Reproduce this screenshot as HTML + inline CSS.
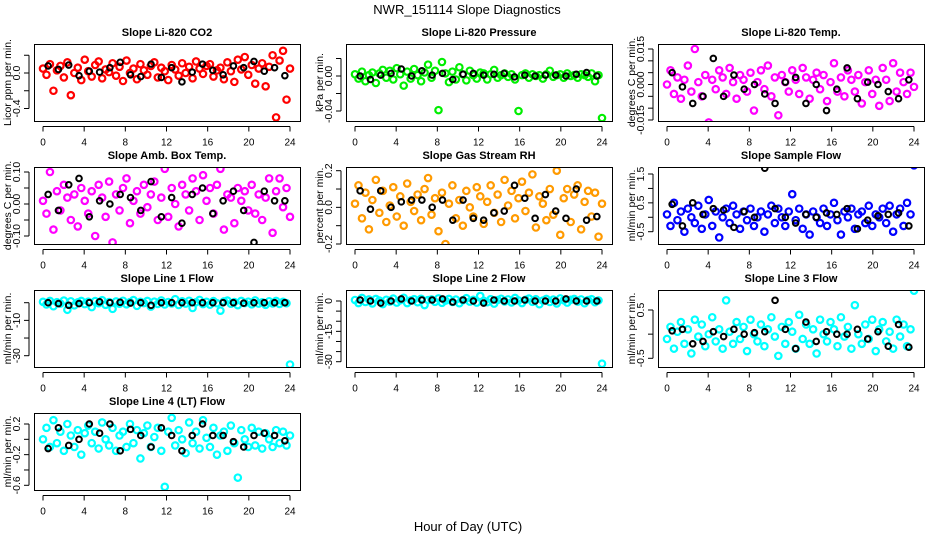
<!DOCTYPE html>
<html><head><meta charset="utf-8">
<style>
html,body{margin:0;padding:0;background:#fff;}
svg{display:block;font-family:"Liberation Sans",Arial,sans-serif;}
</style></head>
<body>
<svg id="chart" width="936" height="540" viewBox="0 0 936 540" xmlns="http://www.w3.org/2000/svg">
<text x="467" y="14" text-anchor="middle" font-size="13">NWR_151114  Slope Diagnostics</text>
<text x="468" y="531" text-anchor="middle" font-size="13">Hour of Day (UTC)</text>
</svg>
<script>
// ---- data ----
const xTicks = [0,4,8,12,16,20,24];
const co2 = [0.05,-0.02,0.1,-0.2,0.03,0.08,-0.05,0.12,-0.25,0.0,0.06,-0.08,0.15,0.02,-0.04,0.09,0.13,-0.06,0.04,0.01,0.11,-0.03,0.07,-0.09,0.14,0.0,0.05,-0.07,0.1,0.03,-0.02,0.08,0.12,-0.05,0.06,0.02,-0.08,0.09,0.04,-0.03,0.11,0.0,0.07,-0.06,0.13,0.05,-0.01,0.08,0.1,-0.04,0.03,0.06,-0.07,0.12,0.02,-0.1,0.15,0.04,0.18,-0.02,0.09,-0.12,0.05,0.11,-0.15,0.07,0.2,-0.5,0.14,0.25,-0.3,0.05];
const co2Ref = [0.08,0.04,0.09,-0.03,0.02,0.01,0.06,0.12,-0.02,-0.04,0.1,-0.05,0.06,-0.1,0.01,0.1,0.03,-0.02,0.08,0.06,0.13,0.02,0.06,-0.03];
const pres = [0.002,-0.003,0.005,-0.006,0.001,0.004,-0.008,0.003,0.007,-0.002,0.006,-0.004,0.009,0.002,-0.011,0.005,-0.003,0.008,0.001,-0.006,0.004,0.013,-0.002,0.006,-0.039,0.016,0.003,-0.007,0.005,-0.004,0.01,0.002,-0.005,0.006,0.001,-0.003,0.004,0.003,-0.004,0.002,0.007,-0.002,0.001,0.003,-0.001,0.002,-0.004,-0.04,0.001,0.003,-0.002,0.002,0.0,0.001,-0.003,0.002,0.006,-0.001,0.001,0.002,-0.002,0.003,0.0,0.001,-0.002,0.002,0.001,-0.001,0.003,-0.006,0.001,-0.048];
const presRef = [0.0,-0.004,0.001,0.003,0.008,0.0,0.006,0.001,0.003,-0.004,0.002,0.003,0.001,0.002,0.003,-0.001,0.001,0.0,0.001,0.001,0.0,0.002,0.004,0.0];
const temp = [0.0,0.006,-0.004,0.003,-0.006,0.002,0.008,-0.003,0.015,0.001,-0.005,0.004,-0.016,0.002,-0.002,0.006,0.003,-0.004,0.007,0.001,-0.006,0.004,0.002,-0.003,0.005,-0.011,0.001,0.006,-0.002,0.008,-0.005,0.003,-0.013,0.004,0.001,-0.003,0.006,0.002,-0.004,0.007,0.003,-0.006,0.002,0.005,-0.002,0.004,-0.007,0.001,0.009,-0.003,0.003,-0.005,0.006,0.002,-0.003,0.004,-0.008,0.001,0.006,-0.004,0.002,-0.009,0.007,0.002,-0.007,0.009,-0.003,0.005,0.001,-0.004,0.005,-0.001];
const tempRef = [0.005,-0.001,-0.008,-0.005,0.011,-0.005,0.004,-0.002,0.0,-0.004,-0.008,0.001,0.003,-0.008,0.0,-0.011,-0.002,0.007,-0.006,0.001,0.0,-0.003,-0.006,0.002];
const amb = [0.01,-0.03,0.1,-0.08,0.04,-0.02,0.06,0.02,-0.05,0.03,-0.07,0.05,0.01,-0.03,0.04,-0.1,0.06,0.02,-0.04,0.07,-0.12,0.03,-0.02,0.05,0.08,-0.06,0.01,0.04,-0.03,0.06,-0.01,0.03,0.07,-0.05,0.02,0.11,-0.04,0.05,0.0,-0.07,0.06,0.03,-0.02,0.08,0.04,-0.05,0.09,0.01,0.05,-0.03,0.06,0.11,-0.08,0.03,0.02,-0.06,0.05,0.01,0.04,-0.02,0.06,-0.03,0.03,-0.05,0.02,0.08,-0.09,0.04,0.08,-0.01,0.05,-0.04];
const ambRef = [0.03,-0.02,0.06,0.08,-0.04,0.01,0.0,0.03,0.02,-0.02,0.07,-0.04,0.02,-0.06,0.03,0.05,-0.03,0.01,0.04,-0.02,-0.12,0.04,0.01,0.01];
const rh = [0.02,0.12,-0.06,0.08,-0.12,0.04,0.15,-0.03,0.09,-0.08,0.01,0.11,-0.05,0.06,-0.1,0.13,0.03,-0.02,0.07,-0.07,0.1,0.16,-0.04,0.05,-0.13,0.08,-0.2,0.02,0.12,-0.06,0.04,-0.1,0.09,0.0,-0.05,0.11,0.06,-0.09,0.03,0.12,-0.03,0.07,-0.08,0.15,0.01,0.09,-0.06,0.05,0.14,-0.02,0.08,0.18,-0.11,0.06,0.02,-0.07,0.1,-0.04,0.2,-0.15,0.05,0.1,-0.08,0.07,0.12,-0.12,0.03,0.09,-0.05,0.08,-0.16,0.02];
const rhRef = [0.09,-0.01,0.09,0.0,0.03,0.04,0.04,0.0,0.04,-0.07,0.04,-0.06,-0.07,-0.03,-0.02,0.12,0.05,-0.06,0.07,-0.02,-0.06,0.1,-0.07,-0.05];
const samp = [0.1,-0.3,0.5,-0.1,0.2,-0.5,0.3,0.0,-0.2,0.4,-0.4,0.1,0.6,-0.3,0.2,-0.7,0.0,0.3,-0.2,0.4,0.1,-0.4,0.2,-0.1,0.3,-0.3,0.0,0.2,-0.5,0.1,0.4,-0.2,0.3,0.0,-0.3,0.2,0.8,-0.1,0.3,-0.4,0.1,-0.6,0.2,0.0,-0.2,0.3,-0.3,0.1,0.5,-0.1,-0.6,0.2,0.0,0.3,-0.4,0.1,0.2,-0.2,0.4,-0.3,0.1,0.0,0.3,-0.2,0.4,-0.5,0.1,0.3,-0.3,0.5,0.1,1.8];
const sampRef = [0.45,-0.3,0.5,0.1,0.3,0.25,-0.35,0.2,0.0,1.7,0.3,0.0,-0.2,0.1,0.0,0.15,0.1,0.3,-0.4,-0.1,0.05,0.1,0.15,-0.3];
const line1 = [0.5,-1,1,-2,0.3,-0.5,1.2,-4,0.8,-1.5,0.2,1,-0.8,0.6,-2.5,0.9,-0.3,1.4,-1.2,0.4,-3.5,0.7,-0.6,1.1,-0.9,0.3,1.5,-1.8,0.5,-0.2,1,-2.2,0.6,-0.7,1.3,-1,0.4,-0.4,2,-1.3,0.8,-0.5,1.1,-3,0.3,1.6,-0.8,0.5,-1.1,0.9,-0.3,-4.5,0.7,1.2,-0.6,0.4,-1.4,1,-0.2,0.6,-0.9,1.3,-0.5,0.2,-1.2,0.8,-0.4,1,-0.7,0.5,-0.3,-35];
const line1Ref = [0,-0.5,-1.5,-0.5,0,0.5,0,0.2,-0.2,0,-1.5,0,0,0,0,0,0,0,0,-0.3,0,0,0,0];
const line2 = [0.5,-1,1.5,-0.5,0.8,-1.2,1,0.2,-1.5,0.6,-0.3,1.2,-0.8,0.4,1.6,-1,0.3,0.9,-0.6,1.1,-2,0.5,0.8,-0.4,1.3,-0.9,0.2,1,-0.5,0.7,-1.1,0.4,1.4,-0.3,0.6,-0.8,2.5,0.1,-0.6,0.9,-1.3,0.5,1.1,-0.2,0.8,-0.7,1.5,0.3,-1,0.6,1.2,-0.4,0.9,-1.6,0.2,1,-0.5,0.7,-1.2,1.3,0.4,-0.8,0.6,1,-0.3,0.8,-1.1,0.5,0.9,-0.6,0.3,-31];
const line2Ref = [0.5,0,-1,0,1,0,0.5,0.5,1,-0.5,0.5,0,-1,0.5,0,0,0.5,0,0,0,1,0,0,0];
const line3 = [-0.1,0.15,-0.3,0.05,0.25,-0.2,0.1,-0.4,0.3,-0.05,0.2,-0.25,0.0,0.35,-0.15,0.1,-0.3,0.7,0.05,-0.2,0.25,-0.1,0.15,-0.35,0.3,0.0,-0.15,0.2,-0.25,0.1,0.35,-0.05,-0.45,0.15,-0.2,0.25,0.05,-0.3,0.4,-0.1,0.2,-0.2,0.1,-0.4,0.3,0.0,-0.15,0.25,0.1,-0.25,0.35,-0.05,0.15,-0.3,0.6,0.0,-0.2,0.2,-0.1,0.3,-0.35,0.1,0.25,-0.15,0.05,-0.3,0.3,-0.05,0.2,-0.25,0.1,0.9];
const line3Ref = [0.07,0.1,-0.2,-0.15,0.05,-0.05,0.1,0.0,0.03,0.05,0.7,0.1,-0.3,0.25,-0.15,0.05,0.0,0.0,0.1,-0.1,0.05,-0.25,0.2,-0.27];
const line4 = [0.0,0.15,-0.1,0.25,-0.05,0.1,-0.15,0.2,0.05,-0.1,0.12,-0.2,0.08,0.18,-0.05,0.1,-0.12,0.22,0.0,-0.08,0.15,-0.15,0.05,0.1,-0.1,0.2,-0.05,0.12,-0.25,0.08,0.18,-0.1,0.03,0.15,-0.15,-0.62,0.1,0.28,-0.08,0.12,0.0,-0.18,0.22,-0.05,0.1,-0.12,0.25,0.02,-0.1,0.15,-0.2,0.05,0.1,-0.15,0.18,-0.05,-0.5,0.12,0.0,-0.1,0.15,-0.08,0.1,-0.12,0.08,0.0,-0.1,0.12,-0.05,0.1,-0.08,0.05];
const line4Ref = [-0.12,0.15,-0.08,0.0,0.2,0.08,0.2,-0.15,0.13,0.05,-0.1,0.15,0.05,-0.15,0.05,0.2,0.05,0.05,-0.03,-0.1,0.05,0.08,0.05,-0.02];

// ---- panel configuration (layout) ----
const panels = [
 {id:'co2',title:'Slope Li-820 CO2',ylab:'Licor ppm per min.',col:0,row:0,color:'#ff0000',vals:co2,ref:co2Ref,cal:[0,73,-0.4,108.5],ticks:[-0.4,-0.2,0,0.2],labels:['-0.4','0.0'],labelVals:[-0.4,0]},
 {id:'pressure',title:'Slope Li-820 Pressure',ylab:'kPa per min.',col:1,row:0,color:'#00ee00',vals:pres,ref:presRef,cal:[0,76,-0.04,111],ticks:[-0.04,-0.02,0,0.02],labels:['-0.04','0.00'],labelVals:[-0.04,0]},
 {id:'temp',title:'Slope Li-820 Temp.',ylab:'degrees C per min.',col:2,row:0,color:'#ff00ff',vals:temp,ref:tempRef,cal:[0.015,49,-0.015,120],ticks:[-0.015,-0.01,-0.005,0,0.005,0.01,0.015],labels:['-0.015','0.000','0.015'],labelVals:[-0.015,0,0.015]},
 {id:'amb-box-temp',title:'Slope Amb. Box Temp.',ylab:'degrees C per min.',col:0,row:1,color:'#ff00ff',vals:amb,ref:ambRef,cal:[0.1,172,-0.1,236],ticks:[-0.1,-0.05,0,0.05,0.1],labels:['-0.10','0.00','0.10'],labelVals:[-0.1,0,0.1]},
 {id:'gas-rh',title:'Slope Gas Stream RH',ylab:'percent per min.',col:1,row:1,color:'#ff9a00',vals:rh,ref:rhRef,cal:[0.2,170.7,-0.2,244],ticks:[-0.2,-0.1,0,0.1,0.2],labels:['-0.2','0.0','0.2'],labelVals:[-0.2,0,0.2]},
 {id:'sample-flow',title:'Slope Sample Flow',ylab:'ml/min per min.',col:2,row:1,color:'#0000ff',vals:samp,ref:sampRef,cal:[1.5,174,-0.5,231.7],ticks:[-0.5,0,0.5,1,1.5],labels:['-0.5','0.5','1.5'],labelVals:[-0.5,0.5,1.5]},
 {id:'line1-flow',title:'Slope Line 1 Flow',ylab:'ml/min per min.',col:0,row:2,color:'#00ffff',vals:line1,ref:line1Ref,cal:[0,302.7,-30,355.7],ticks:[-30,-20,-10,0],labels:['-30','-10'],labelVals:[-30,-10]},
 {id:'line2-flow',title:'Slope Line 2 Flow',ylab:'ml/min per min.',col:1,row:2,color:'#00ffff',vals:line2,ref:line2Ref,cal:[0,301,-30,361.7],ticks:[-30,-25,-20,-15,-10,-5,0],labels:['-30','-15','0'],labelVals:[-30,-15,0]},
 {id:'line3-flow',title:'Slope Line 3 Flow',ylab:'ml/min per min.',col:2,row:2,color:'#00ffff',vals:line3,ref:line3Ref,cal:[0.5,310,-0.5,358.3],ticks:[-0.5,0,0.5],labels:['-0.5','0.5'],labelVals:[-0.5,0.5]},
 {id:'line4-flow',title:'Slope Line 4 (LT) Flow',ylab:'ml/min per min.',col:0,row:3,color:'#00ffff',vals:line4,ref:line4Ref,cal:[0.2,424,-0.6,485.3],ticks:[-0.6,-0.4,-0.2,0,0.2],labels:['-0.6','-0.2','0.2'],labelVals:[-0.6,-0.2,0.2]}
];
const colLeft=[34,346,658], rowTop=[44,167,290,413], BW=266, BH=77;
const NS='http://www.w3.org/2000/svg';
const svg=document.getElementById('chart');
function mk(tag,attrs,parent){const e=document.createElementNS(NS,tag);for(const k in attrs)e.setAttribute(k,attrs[k]);(parent||svg).appendChild(e);return e;}

panels.forEach(p=>{
  const L=colLeft[p.col], T=rowTop[p.row];
  const g=mk('g',{});
  
  
  const xS=h=>L+9+h*(247/24);
  const [v1,p1,v2,p2]=p.cal;
  const yS=v=>p1+(v-v1)*(p2-p1)/(v2-v1);
  const cid='clip-'+p.id;
  const cp=mk('clipPath',{id:cid},g);mk('rect',{x:L,y:T,width:BW,height:BH},cp);
  const pts=mk('g',{'clip-path':'url(#'+cid+')'},g);
  
  
  const n=p.vals.length;
  p.vals.forEach((v,i)=>{
    const c=mk('circle',{cx:xS(i*24/(n-1)),cy:yS(v),r:3.2,fill:'none',stroke:p.color,'stroke-width':2.2},pts);
    
    
  });
  p.ref.forEach((v,i)=>{
    const c=mk('circle',{cx:xS(i+0.5),cy:yS(v),r:2.8,fill:'none',stroke:'#000','stroke-width':2},pts);
    
    
  });
  const box=mk('rect',{x:L+0.5,y:T+0.5,width:BW,height:BH,fill:'none',stroke:'#000','stroke-width':1},g);
  
  
  const t=mk('text',{x:L+BW/2,y:T-8,'text-anchor':'middle','font-size':11,'font-weight':'bold'},g);
  t.textContent=p.title;
  
  
  const xb=T+BH+0.5;
  mk('line',{x1:xS(0),x2:xS(24),y1:xb+5,y2:xb+5,stroke:'#000'},g);
  xTicks.forEach(h=>{
    mk('line',{x1:xS(h),x2:xS(h),y1:xb+5,y2:xb+10,stroke:'#000'},g);
    const tl=mk('text',{x:xS(h),y:xb+24,'text-anchor':'middle','font-size':10},g);
    tl.textContent=h;
    
    
  });
  const ax=L-5;
  mk('line',{x1:ax,x2:ax,y1:yS(p.ticks[0]),y2:yS(p.ticks[p.ticks.length-1]),stroke:'#000'},g);
  p.ticks.forEach(v=>{mk('line',{x1:ax-5,x2:ax,y1:yS(v),y2:yS(v),stroke:'#000'},g);});
  p.labelVals.forEach((v,i)=>{
    const y=yS(v), x=ax-9;
    const tl=mk('text',{x:x,y:y,'text-anchor':'middle','font-size':10.5,transform:'rotate(-90 '+x+' '+y+')'},g);
    tl.textContent=p.labels[i];
    
    
  });
  const yx=L-23, yy=T+BH/2;
  const yl=mk('text',{x:yx,y:yy,'text-anchor':'middle','font-size':10.5,transform:'rotate(-90 '+yx+' '+yy+')'},g);
  yl.textContent=p.ylab;
  
  
});
</script>
</body></html>
